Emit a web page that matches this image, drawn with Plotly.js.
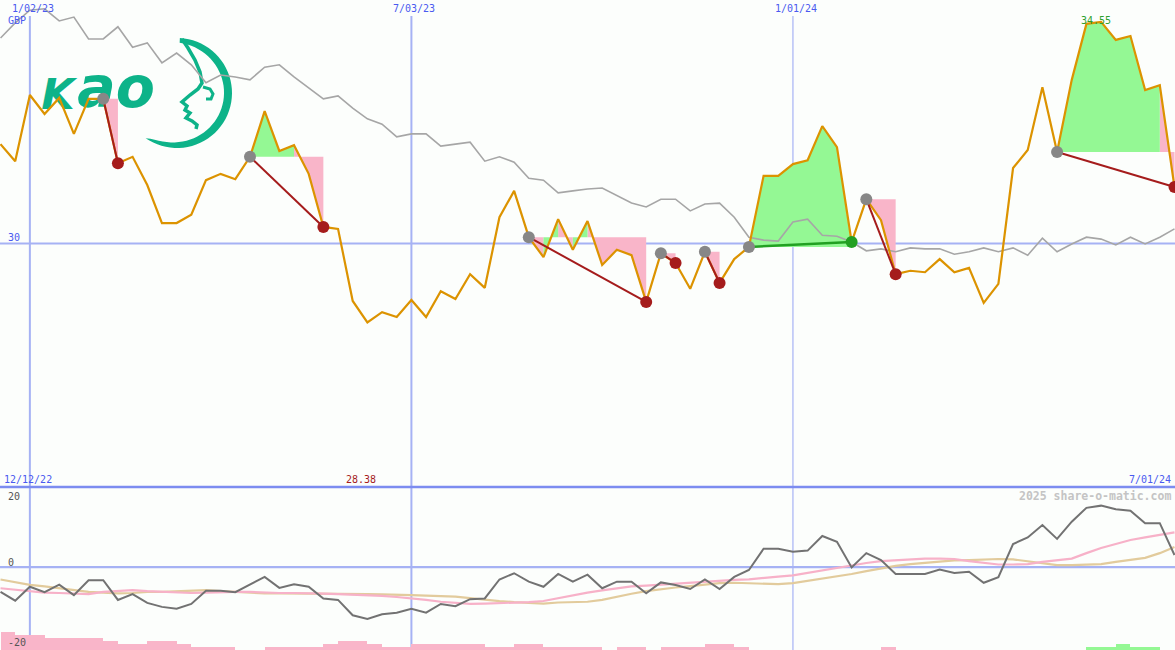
<!DOCTYPE html>
<html><head><meta charset="utf-8">
<script src="https://cdn.plot.ly/plotly-3.0.1.min.js"></script>
<style>html,body{margin:0;padding:0;background:#fcfefc}#chart{width:1175px;height:650px}</style>
</head><body><div id="chart"></div>
<script>
// ---------- data ----------
const firstWeek = '2022-12-19';
const price = [32.04, 31.69, 33.05, 32.66, 32.99, 32.25, 32.97, 32.97, 31.65, 31.78,
 31.20, 30.42, 30.42, 30.59, 31.30, 31.43, 31.32, 31.78, 32.72, 31.90,
 32.02, 31.43, 30.34, 30.30, 28.82, 28.38, 28.59, 28.49, 28.84, 28.49,
 29.02, 28.86, 29.37, 29.09, 30.54, 31.08, 30.13, 29.72, 30.50, 29.87,
 30.46, 29.56, 29.87, 29.76, 28.80, 29.80, 29.60, 29.07, 29.83, 29.19,
 29.68, 29.93, 31.39, 31.39, 31.63, 31.71, 32.41, 31.98, 30.03, 30.91,
 30.48, 29.37, 29.44, 29.41, 29.68, 29.41, 29.50, 28.78, 29.17, 31.55,
 31.92, 33.21, 31.88, 33.36, 34.51, 34.55, 34.18, 34.26, 33.15, 33.25,
 31.16];
const compare = [34.22, 34.53, 34.79, 34.82, 34.57, 34.65, 34.20, 34.20, 34.45, 34.03,
 34.12, 33.71, 33.91, 33.67, 33.30, 33.46, 33.42, 33.36, 33.62, 33.67,
 33.42, 33.19, 32.97, 33.03, 32.78, 32.56, 32.45, 32.19, 32.25, 32.25,
 32.00, 32.04, 32.08, 31.69, 31.78, 31.67, 31.34, 31.30, 31.04, 31.08,
 31.12, 31.14, 30.98, 30.83, 30.75, 30.91, 30.91, 30.67, 30.81, 30.83,
 30.54, 30.13, 30.07, 30.05, 30.44, 30.50, 30.17, 30.15, 30.03, 29.85,
 29.89, 29.83, 29.91, 29.89, 29.89, 29.78, 29.83, 29.91, 29.83, 29.91,
 29.76, 30.11, 29.83, 29.99, 30.13, 30.09, 29.97, 30.13, 29.99, 30.13,
 30.30];
const momentum = [-6.8, -9.2, -5.4, -6.9, -4.8, -7.7, -3.6, -3.6, -9.0, -7.4,
 -9.8, -10.9, -11.4, -10.1, -6.5, -6.5, -6.9, -4.7, -2.7, -5.7,
 -4.7, -5.4, -8.6, -9.0, -13.2, -14.2, -12.9, -12.5, -11.4, -12.5,
 -10.1, -10.7, -8.8, -8.6, -3.4, -1.7, -4.0, -5.4, -1.9, -4.0,
 -2.1, -5.8, -4.0, -4.0, -7.2, -4.2, -4.9, -6.0, -3.4, -6.0,
 -2.7, -0.8, 5.0, 5.0, 4.2, 4.5, 8.5, 6.9, -0.1, 3.8,
 1.9, -1.9, -1.9, -1.9, -0.7, -1.6, -1.3, -4.3, -2.8, 6.3,
 8.1, 11.5, 7.7, 12.4, 16.2, 16.8, 15.8, 15.4, 12.0, 12.0,
 3.3];
const avgFast = [-5.8, -6.2, -6.7, -7.0, -7.1, -7.3, -7.4, -6.8, -6.6, -6.3,
 -6.6, -6.8, -7.1, -7.1, -7.0, -6.8, -6.8, -6.8, -7.0, -7.1,
 -7.1, -7.1, -7.3, -7.4, -7.5, -7.7, -7.9, -8.2, -8.5, -9.0,
 -9.5, -9.9, -10.1, -10.0, -9.9, -9.7, -9.6, -9.3, -8.5, -7.7,
 -7.0, -6.4, -5.8, -5.3, -5.1, -4.8, -4.5, -4.2, -4.0, -3.7,
 -3.5, -3.4, -2.9, -2.6, -2.3, -1.6, -1.0, -0.4, 0.3, 1.1,
 1.6, 1.9, 2.2, 2.3, 2.3, 2.2, 1.6, 1.1, 0.7, 0.7,
 0.8, 1.4, 1.8, 2.3, 3.8, 5.2, 6.3, 7.4, 8.1, 8.8,
 9.5];
const avgSlow = [-3.4, -4.1, -4.9, -5.3, -5.8, -6.3, -6.8, -7.0, -7.2, -7.1,
 -6.8, -6.8, -6.6, -6.3, -6.3, -6.6, -6.8, -7.1, -7.2, -7.2,
 -7.2, -7.2, -7.2, -7.2, -7.3, -7.4, -7.5, -7.7, -7.7, -7.8,
 -7.9, -8.1, -8.5, -9.0, -9.3, -9.6, -9.9, -10.0, -9.7, -9.5,
 -9.5, -9.0, -8.1, -7.3, -6.6, -6.0, -5.6, -5.2, -4.8, -4.4,
 -4.3, -4.4, -4.5, -4.7, -4.4, -3.8, -3.3, -2.7, -1.9, -1.1,
 -0.3, 0.3, 0.8, 1.2, 1.5, 1.8, 1.9, 2.1, 2.2, 2.1,
 1.5, 1.0, 0.5, 0.5, 0.7, 0.8, 1.4, 1.9, 2.5, 3.8,
 5.5];
const barPink = [6,5,5,4,4,4,4,3,2,2, 3,3,2,1,1,1,0,0,1,1, 1,1,2,3,3,2,1,1,2,2,
 2,2,2,1,1,2,2,1,1,1, 1,0,1,1,0,1,1,1,2,2, 1,0,0,0,0,0,0,0,0,0,
 1,0,0,0,0,0,0,0,0,0, 0,0,0,0,0,0,0,0,0,0];
const barGreen = [0,0,0,0,0,0,0,0,0,0, 0,0,0,0,0,0,0,0,0,0, 0,0,0,0,0,0,0,0,0,0,
 0,0,0,0,0,0,0,0,0,0, 0,0,0,0,0,0,0,0,0,0, 0,0,0,0,0,0,0,0,0,0,
 0,0,0,0,0,0,0,0,0,0, 0,0,0,0,1,1,2,1,1,0];
const entryIdx = [7, 17, 36, 45, 48, 51, 59, 72];
const exitIdx  = [8, 22, 44, 46, 49, 58, 61, 80];
const gridDates  = ['2023-01-02', '2023-07-03', '2024-01-01'];
const gridLabels = ['1/02/23', '7/03/23', '1/01/24'];
const startLabel = '12/12/22';
const endLabel = '7/01/24';
const currency = 'GBP';

// ---------- derived ----------
const W = 1175, H = 650;
const DAY = 864e5;
const t0 = Date.parse(firstWeek + 'T00:00:00Z');
const dates = price.map((_, i) => new Date(t0 + i * 7 * DAY).toISOString().slice(0, 10));
const mainBottom = 1 - 487 / H;
const xRange = ['2022-12-18 18:00', '2024-07-01 06:00'];
const yRange = [25, 35];

const C = {
  orange: '#dc9300', gray: '#a6a6a6', pink: '#f9b5c9', green: '#94f894',
  red: '#a51c1c', dgreen: '#22a022', blue: '#4a5af0', grid: '#a6b2f4',
  mom: '#727272', maFast: '#f7b1c8', maSlow: '#e2cb9c'
};

// trade fills: each weekly segment coloured by where it ends vs entry level
const fillPink = {x: [], y: []}, fillGreen = {x: [], y: []};
const lossLine = {x: [], y: []}, gainLine = {x: [], y: []};
const entM = {x: [], y: []}, lossM = {x: [], y: []}, gainM = {x: [], y: []};
entryIdx.forEach((e, k) => {
  const x = exitIdx[k], L = price[e];
  for (let i = e; i < x; i++) {
    const tgt = price[i + 1] >= L ? fillGreen : fillPink;
    tgt.x.push(dates[i], dates[i + 1], dates[i + 1], dates[i], null);
    tgt.y.push(price[i], price[i + 1], L, L, null);
  }
  const win = price[x] >= L;
  const ln = win ? gainLine : lossLine;
  ln.x.push(dates[e], dates[x], null); ln.y.push(L, price[x], null);
  entM.x.push(dates[e]); entM.y.push(L);
  const m = win ? gainM : lossM;
  m.x.push(dates[x]); m.y.push(price[x]);
});

// logo text placed in the main panel (behind the lines) from pixel positions
const xs0 = Date.parse(xRange[0].replace(' ', 'T') + ':00Z'), xs1 = Date.parse(xRange[1].replace(' ', 'T') + ':00Z');
const pxDate = px => new Date(xs0 + px / W * (xs1 - xs0)).toISOString().replace('T', ' ').slice(0, 19);
const pyVal = py => yRange[1] - py / 487 * (yRange[1] - yRange[0]);
const kaoGreen = '#0db389';

const barDates = dates.slice(0, 80);
const traces = [
  {type: 'bar', x: barDates, y: barPink, yaxis: 'y3', marker: {color: C.pink, line: {width: 0}}, width: 7 * DAY, offset: 0, hoverinfo: 'skip'},
  {type: 'bar', x: barDates, y: barGreen, yaxis: 'y3', marker: {color: C.green, line: {width: 0}}, width: 7 * DAY, offset: 0, hoverinfo: 'skip'},
  {type: 'scatter', mode: 'lines', x: dates, y: avgSlow, yaxis: 'y2', line: {color: C.maSlow, width: 2.2}},
  {type: 'scatter', mode: 'lines', x: dates, y: avgFast, yaxis: 'y2', line: {color: C.maFast, width: 2.2}},
  {type: 'scatter', mode: 'lines', x: dates, y: momentum, yaxis: 'y2', line: {color: C.mom, width: 2}},
  {type: 'scatter', mode: 'text', x: [pxDate(58)], y: [pyVal(98)], text: ['K'], textposition: 'middle center', cliponaxis: false,
    textfont: {family: 'DejaVu Sans', size: 43, color: kaoGreen, weight: 'bold', style: 'italic'}},
  {type: 'scatter', mode: 'text', x: [pxDate(116)], y: [pyVal(93)], text: ['ao'], textposition: 'middle center', cliponaxis: false,
    textfont: {family: 'DejaVu Sans', size: 57, color: kaoGreen, weight: 'bold', style: 'italic'}},
  {type: 'scatter', mode: 'lines', x: fillPink.x, y: fillPink.y, fill: 'toself', fillcolor: C.pink, line: {width: 0}, connectgaps: false},
  {type: 'scatter', mode: 'lines', x: fillGreen.x, y: fillGreen.y, fill: 'toself', fillcolor: C.green, line: {width: 0}, connectgaps: false},
  {type: 'scatter', mode: 'lines', x: dates, y: compare, line: {color: C.gray, width: 1.6}},
  {type: 'scatter', mode: 'lines', x: dates, y: price, line: {color: C.orange, width: 2.2}},
  {type: 'scatter', mode: 'lines', x: lossLine.x, y: lossLine.y, line: {color: C.red, width: 2}, connectgaps: false},
  {type: 'scatter', mode: 'lines', x: gainLine.x, y: gainLine.y, line: {color: C.dgreen, width: 2.5}, connectgaps: false},
  {type: 'scatter', mode: 'markers', x: entM.x, y: entM.y, marker: {color: '#878787', size: 12}},
  {type: 'scatter', mode: 'markers', x: lossM.x, y: lossM.y, marker: {color: C.red, size: 12}},
  {type: 'scatter', mode: 'markers', x: gainM.x, y: gainM.y, marker: {color: C.dgreen, size: 12}}
];

// ---------- decoration ----------
const pp = (x, y) => (x / W).toFixed(5) + ',' + (1 - y / H).toFixed(5);
const path = (pts, close) => pts.map((p, i) => (i ? 'L' : 'M') + pp(p[0], p[1])).join(' ') + (close ? ' Z' : '');
const moonOuter = [], moonInner = [];
{
  const cx = 177, cy = 93, R = 55, a1 = -87 * Math.PI / 180, a2 = 134 * Math.PI / 180;
  for (let k = 0; k <= 48; k++) {
    const t = k / 48, a = a1 + (a2 - a1) * t;
    const w = 8 * Math.pow(Math.sin(Math.PI * Math.min(1, 0.08 + t * 0.97)), 0.4);
    moonOuter.push([cx + R * Math.cos(a), cy + R * Math.sin(a)]);
    moonInner.push([cx + (R - w) * Math.cos(a), cy + (R - w) * Math.sin(a)]);
  }
}
const facePts = [[182, 39], [188, 48], [195, 60], [200, 72], [202, 83], [198, 89], [190, 95], [182, 102],
  [187, 106], [185, 110], [190, 113], [186, 118], [192, 121], [197, 125], [196, 129]];
const eyePts = [[203, 87], [210, 89], [213, 94], [211, 99], [206, 99]];

const shapes = [];
gridDates.forEach((d, i) => shapes.push({type: 'line', layer: 'below', xref: 'x', yref: 'paper', x0: d, x1: d, y0: 0, y1: 1 - 16 / H,
  line: {color: C.grid, width: i === 2 ? 1.2 : 2}}));
shapes.push({type: 'line', layer: 'below', xref: 'paper', yref: 'y', x0: 0, x1: 1, y0: 30, y1: 30, line: {color: C.grid, width: 2.2}});
shapes.push({type: 'line', layer: 'below', xref: 'paper', yref: 'paper', x0: 0, x1: 1, y0: mainBottom, y1: mainBottom, line: {color: '#7c8cf0', width: 2.6}});
shapes.push({type: 'line', layer: 'below', xref: 'paper', yref: 'y2', x0: 0, x1: 1, y0: 0, y1: 0, line: {color: C.grid, width: 2.2}});
shapes.push({type: 'path', layer: 'below', xref: 'paper', yref: 'paper', path: path(moonOuter.concat(moonInner.slice().reverse()), true), fillcolor: kaoGreen, line: {width: 0}});
shapes.push({type: 'path', layer: 'below', xref: 'paper', yref: 'paper', path: path(facePts, false), line: {color: kaoGreen, width: 3.5}});
shapes.push({type: 'path', layer: 'below', xref: 'paper', yref: 'paper', path: path(eyePts, false), line: {color: kaoGreen, width: 3}});

const mono = 'DejaVu Sans Mono';
const fB = {family: mono, size: 10, color: C.blue};
const py = y => 1 - y / H;
const minIdx = price.indexOf(Math.min(...price));
const maxIdx = price.indexOf(Math.max(...price));
const annotations = [];
gridDates.forEach((d, i) => annotations.push({xref: 'x', yref: 'paper', x: d, y: py(8), yanchor: 'middle', text: gridLabels[i], showarrow: false, xshift: 3, font: fB}));
annotations.push(
  {xref: 'paper', yref: 'paper', x: 6 / W, y: py(21), xanchor: 'left', yanchor: 'middle', text: currency, showarrow: false, font: fB},
  {xref: 'paper', yref: 'y', x: 6 / W, y: 30, yshift: 6, xanchor: 'left', yanchor: 'middle', text: '30', showarrow: false, font: fB},
  {xref: 'paper', yref: 'paper', x: 2 / W, y: py(479), xanchor: 'left', yanchor: 'middle', text: startLabel, showarrow: false, font: fB},
  {xref: 'paper', yref: 'paper', x: 1173 / W, y: py(479), xanchor: 'right', yanchor: 'middle', text: endLabel, showarrow: false, font: fB},
  {xref: 'x', yref: 'paper', x: dates[minIdx], y: py(479), xshift: -6, yanchor: 'middle', text: price[minIdx].toFixed(2), showarrow: false, font: {family: mono, size: 10, color: C.red}},
  {xref: 'x', yref: 'y', x: dates[maxIdx], y: price[maxIdx], yshift: 1, xshift: -5, yanchor: 'middle', text: price[maxIdx].toFixed(2), showarrow: false, font: {family: mono, size: 10, color: '#2ea02e'}},
  {xref: 'paper', yref: 'paper', x: 1173 / W, y: py(496), xanchor: 'right', yanchor: 'middle', text: '2025 share-o-matic.com', showarrow: false, font: {family: mono, size: 11.5, color: '#c4c4c4', weight: 'bold'}},
  {xref: 'paper', yref: 'paper', x: 6 / W, y: py(496), xanchor: 'left', yanchor: 'middle', text: '20', showarrow: false, font: {family: mono, size: 10, color: '#555'}},
  {xref: 'paper', yref: 'paper', x: 6 / W, y: py(562), xanchor: 'left', yanchor: 'middle', text: '0', showarrow: false, font: {family: mono, size: 10, color: '#555'}},
  {xref: 'paper', yref: 'paper', x: 6 / W, y: py(642), xanchor: 'left', yanchor: 'middle', text: '-20', showarrow: false, font: {family: mono, size: 10, color: '#555'}}
);

const layout = {
  width: W, height: H, margin: {l: 0, r: 0, t: 0, b: 0},
  paper_bgcolor: '#fcfefc', plot_bgcolor: 'rgba(0,0,0,0)',
  showlegend: false, hovermode: false, barmode: 'overlay', bargap: 0,
  xaxis: {type: 'date', range: xRange, visible: false, domain: [0, 1], fixedrange: true},
  yaxis: {domain: [mainBottom, 1], range: yRange, visible: false, fixedrange: true},
  yaxis2: {domain: [0, mainBottom], range: [-22.7, 21.9], visible: false, anchor: 'x', fixedrange: true},
  yaxis3: {overlaying: 'y2', range: [0, 163 / 3], visible: false, anchor: 'x', fixedrange: true},
  shapes: shapes, annotations: annotations
};
Plotly.newPlot('chart', traces, layout, {staticPlot: true, displayModeBar: false});
</script></body></html>
